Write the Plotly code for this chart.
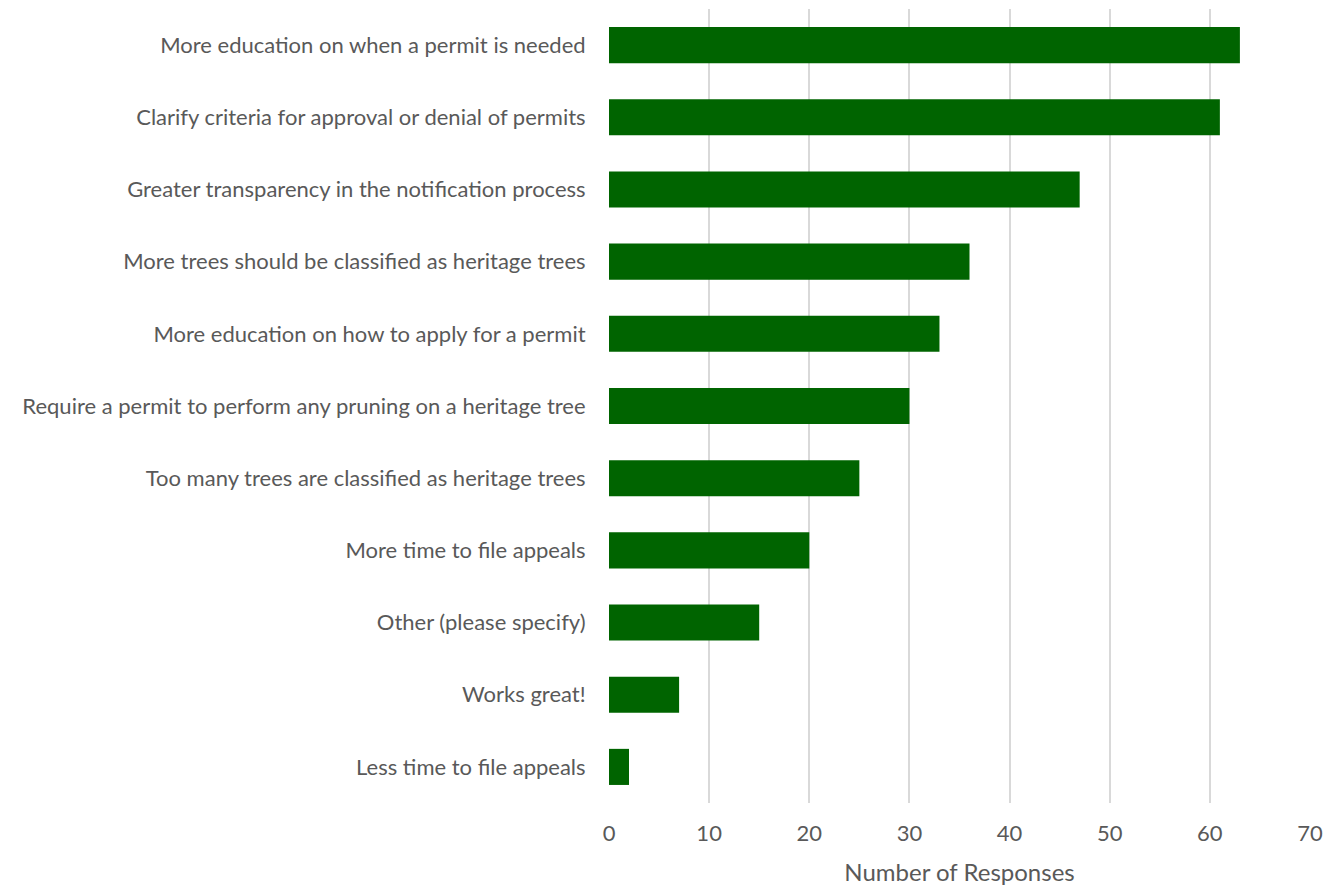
import plotly.graph_objects as go

categories = [
    "More education on when a permit is needed",
    "Clarify criteria for approval or denial of permits",
    "Greater transparency in the notification process",
    "More trees should be classified as heritage trees",
    "More education on how to apply for a permit",
    "Require a permit to perform any pruning on a heritage tree",
    "Too many trees are classified as heritage trees",
    "More time to file appeals",
    "Other (please specify)",
    "Works great!",
    "Less time to file appeals",
]
responses = [63, 61, 47, 36, 33, 30, 25, 20, 15, 7, 2]
x_ticks = [0, 10, 20, 30, 40, 50, 60, 70]

FONT = "Lato, Carlito, Calibri, sans-serif"
GRAY = "#595959"

fig = go.Figure(
    go.Bar(
        x=responses,
        y=categories,
        orientation="h",
        marker=dict(color="#006400", line=dict(width=0)),
        width=0.5,
    )
)

fig.update_layout(
    width=1327,
    height=878,
    margin=dict(l=601, r=25, t=1, b=83),
    paper_bgcolor="white",
    plot_bgcolor="white",
    showlegend=False,
    font=dict(family=FONT, size=22, color=GRAY),
)

fig.update_xaxes(
    range=[0, 70],
    tickvals=x_ticks,
    showgrid=True,
    gridcolor="#d9d9d9",
    gridwidth=1.5,
    zeroline=False,
    showline=False,
    ticks="outside",
    ticklen=11,
    tickcolor="rgba(0,0,0,0)",
    tickfont=dict(family=FONT, size=22, color=GRAY),
    title=dict(text="Number of Responses", font=dict(family=FONT, size=24, color=GRAY), standoff=18),
)

fig.update_yaxes(
    categoryorder="array",
    categoryarray=categories[::-1],
    range=[-0.5, len(categories) - 0.5],
    showgrid=False,
    showline=False,
    ticks="outside",
    ticklen=18,
    tickcolor="rgba(0,0,0,0)",
    tickfont=dict(family=FONT, size=22, color=GRAY),
)

fig.write_html("out.html")
